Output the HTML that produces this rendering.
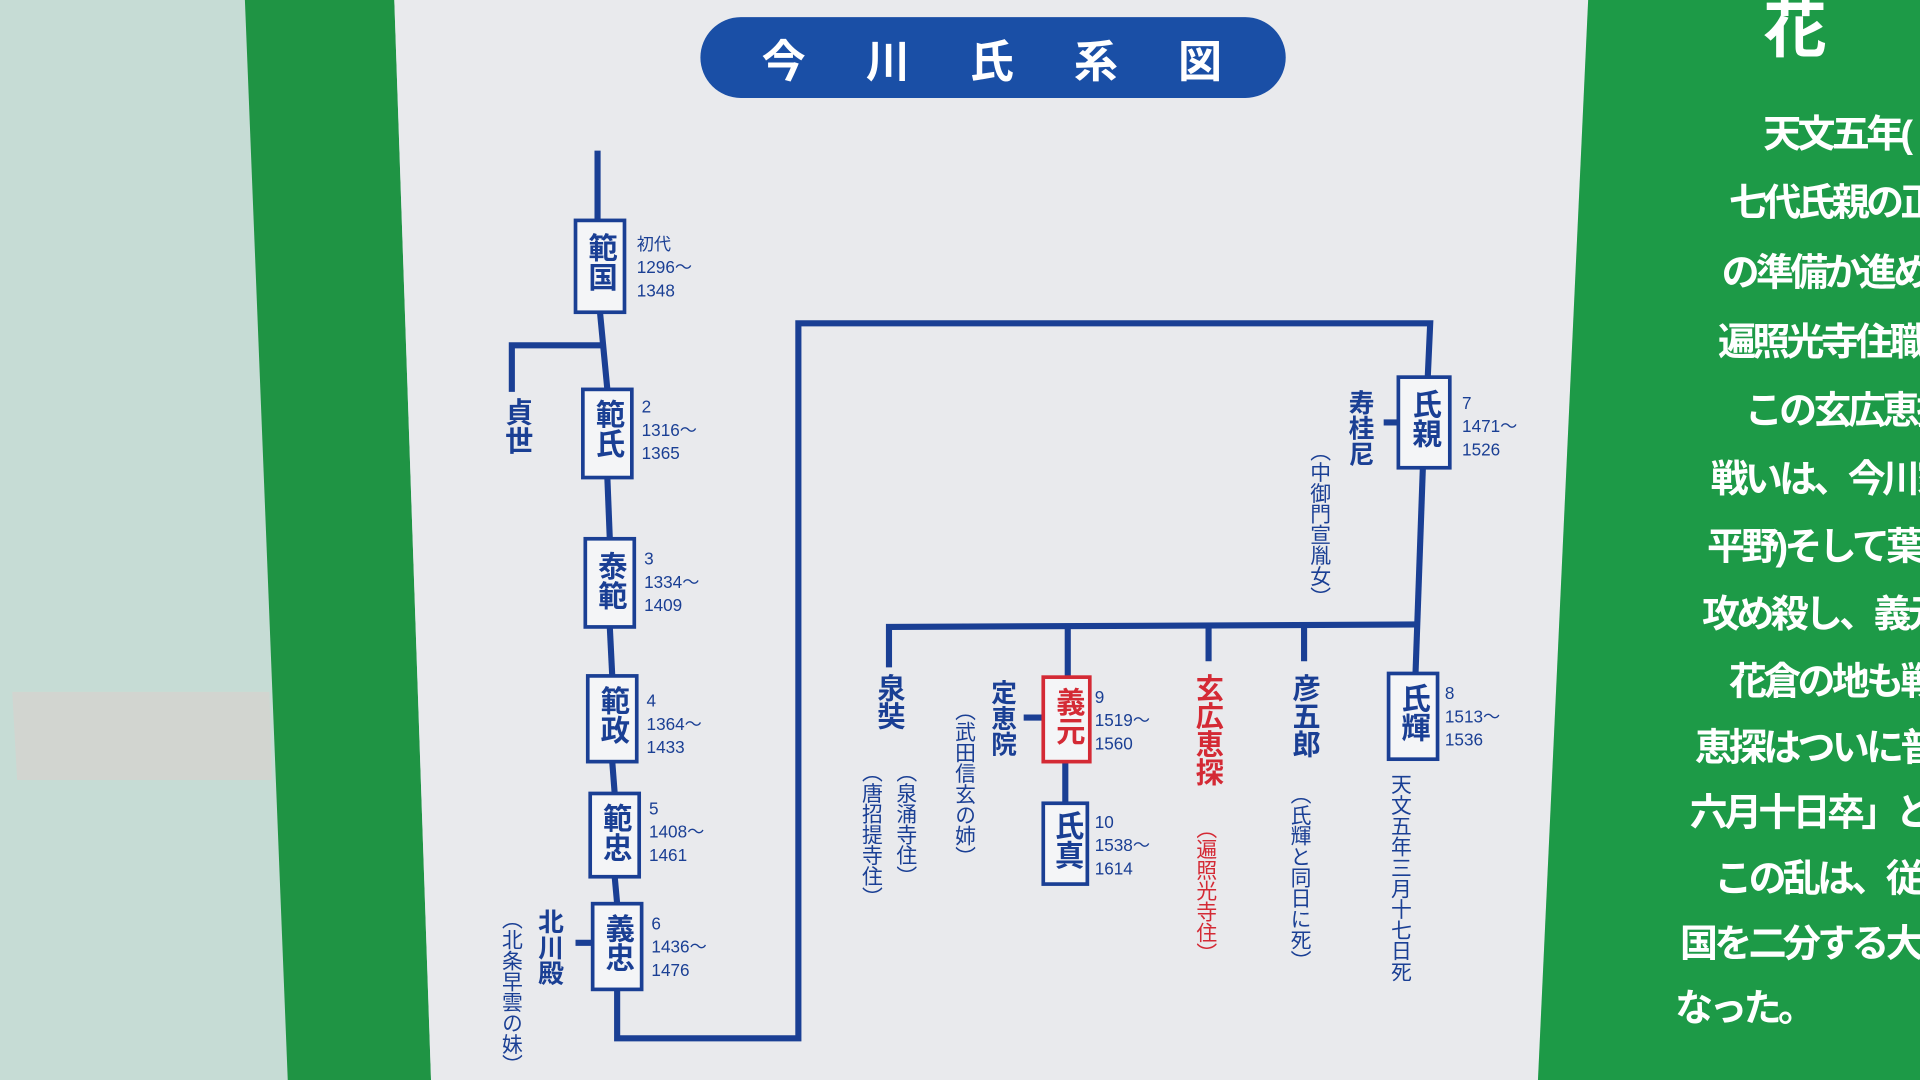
<!DOCTYPE html>
<html><head><meta charset="utf-8"><style>
html,body{margin:0;padding:0;width:1920px;height:1080px;overflow:hidden;background:#c9ded8}
#w{position:absolute;left:0;top:0;width:1568px;height:882px;transform:scale(1.22449);transform-origin:0 0;font-family:"Liberation Sans","Noto Sans CJK JP",sans-serif}
.t{position:absolute;white-space:nowrap}
.v{writing-mode:vertical-rl;position:absolute;font-weight:bold;color:#1a3f94;line-height:1}
.n{position:absolute;font-size:14px;color:#1a3f94;line-height:19px}
.g{position:absolute;color:#fff;font-size:31px;font-weight:bold;white-space:nowrap;letter-spacing:-3px}
.p{font-weight:normal;font-size:17px}
</style></head><body><div id="w">
<svg width="1568" height="882" style="position:absolute;left:0;top:0">
<rect width="1568" height="882" fill="#c2d9d2"/>
<polygon points="0,0 205,0 235,882 0,882" fill="#c6dcd5"/>
<polygon points="10,565 220,565 222,637 14,637" fill="#d2d5d0"/>
<polygon points="200,0 322,0 352,882 235,882" fill="#1f9444"/>
<polygon points="322,0 1297,0 1256,882 352,882" fill="#e9eaed"/>
<polygon points="1297,0 1568,0 1568,882 1256,882" fill="#1d9a47"/>
<rect x="572" y="14" width="478" height="66" rx="33" fill="#1a4fa6"/>
<g stroke="#1a3f94" stroke-width="5" fill="none">
<polyline points="488,123 488,180"/>
<polyline points="490,255 496,318"/>
<polyline points="418,320 418,282 492,282"/>
<polyline points="496,390 498,440"/>
<polyline points="498,512 500,552"/>
<polyline points="500,622 502,648"/>
<polyline points="502,716 504,738"/>
<polyline points="504,808 504,848 652,848 652,264 1168,264 1166,308"/>
<polyline points="1130,345 1142,345"/>
<polyline points="1162,382 1156,550"/>
<polyline points="726,545 726,512 1158,510"/>
<polyline points="872,512 872,553"/>
<polyline points="987,511 987,540"/>
<polyline points="1065,511 1065,540"/>
<polyline points="870,622 870,656"/>
<polyline points="836,586 852,586"/>
<polyline points="470,770 484,770"/>
</g>
<g stroke-width="3" fill="#f4f5f7">
<rect x="470" y="180" width="40" height="75" stroke="#1a3f94"/>
<rect x="476" y="318" width="40" height="72" stroke="#1a3f94"/>
<rect x="478" y="440" width="40" height="72" stroke="#1a3f94"/>
<rect x="480" y="552" width="40" height="70" stroke="#1a3f94"/>
<rect x="482" y="648" width="40" height="68" stroke="#1a3f94"/>
<rect x="484" y="738" width="40" height="70" stroke="#1a3f94"/>
<rect x="1142" y="308" width="42" height="74" stroke="#1a3f94"/>
<rect x="1134" y="550" width="40" height="70" stroke="#1a3f94"/>
<rect x="852" y="553" width="38" height="69" stroke="#d42a35"/>
<rect x="852" y="656" width="36" height="66" stroke="#1a3f94"/>
</g>
</svg>
<div class="t" style="left:622px;top:22px;font-size:36px;font-weight:bold;color:#fff;letter-spacing:49px">今川氏系図</div>
<div class="v" style="left:477px;top:190px;font-size:24px">範国</div>
<div class="v" style="left:483px;top:326px;font-size:24px">範氏</div>
<div class="v" style="left:485px;top:450px;font-size:24px">泰範</div>
<div class="v" style="left:487px;top:560px;font-size:24px">範政</div>
<div class="v" style="left:489px;top:656px;font-size:24px">範忠</div>
<div class="v" style="left:491px;top:746px;font-size:24px">義忠</div>
<div class="v" style="left:1150px;top:318px;font-size:24px">氏親</div>
<div class="v" style="left:1141px;top:558px;font-size:24px">氏輝</div>
<div class="v" style="left:859px;top:561px;font-size:24px;color:#d42a35">義元</div>
<div class="v" style="left:858px;top:662px;font-size:24px">氏真</div>
<div class="v" style="left:410px;top:325px;font-size:23px">貞世</div>
<div class="v" style="left:438px;top:742px;font-size:21px">北川殿</div>
<div class="v p" style="left:408px;top:742px">（北条早雲の妹）</div>
<div class="v" style="left:1100px;top:318px;font-size:21px">寿桂尼</div>
<div class="v p" style="left:1068px;top:360px">（中御門宣胤女）</div>
<div class="v" style="left:714px;top:550px;font-size:23px">泉奘</div>
<div class="v p" style="left:730px;top:622px">（泉涌寺住）</div>
<div class="v p" style="left:702px;top:622px">（唐招提寺住）</div>
<div class="v" style="left:808px;top:555px;font-size:21px">定恵院</div>
<div class="v p" style="left:778px;top:572px">（武田信玄の姉）</div>
<div class="v" style="left:974px;top:550px;font-size:23px;color:#d42a35">玄広恵探</div>
<div class="v p" style="left:975px;top:668px;color:#d42a35">（遍照光寺住）</div>
<div class="v" style="left:1053px;top:550px;font-size:23px">彦五郎</div>
<div class="v p" style="left:1052px;top:640px">（氏輝と同日に死）</div>
<div class="v p" style="left:1134px;top:632px">天文五年三月十七日死</div>
<div class="n" style="left:520px;top:190px">初代<br>1296～<br>1348</div>
<div class="n" style="left:524px;top:323px">2<br>1316～<br>1365</div>
<div class="n" style="left:526px;top:447px">3<br>1334～<br>1409</div>
<div class="n" style="left:528px;top:563px">4<br>1364～<br>1433</div>
<div class="n" style="left:530px;top:651px">5<br>1408～<br>1461</div>
<div class="n" style="left:532px;top:745px">6<br>1436～<br>1476</div>
<div class="n" style="left:1194px;top:320px">7<br>1471～<br>1526</div>
<div class="n" style="left:1180px;top:557px">8<br>1513～<br>1536</div>
<div class="n" style="left:894px;top:560px">9<br>1519～<br>1560</div>
<div class="n" style="left:894px;top:662px">10<br>1538～<br>1614</div>
<div class="g" style="left:1440px;top:-18px;font-size:52px">花</div>
<div class="g" style="left:1440px;top:84px">天文五年(</div>
<div class="g" style="left:1412px;top:140px">七代氏親の正</div>
<div class="g" style="left:1406px;top:197px">の準備か進め</div>
<div class="g" style="left:1403px;top:254px">遍照光寺住職</div>
<div class="g" style="left:1425px;top:310px">この玄広恵探</div>
<div class="g" style="left:1397px;top:366px">戦いは、今川家</div>
<div class="g" style="left:1394px;top:421px">平野)そして葉梨</div>
<div class="g" style="left:1390px;top:476px">攻め殺し、義元が</div>
<div class="g" style="left:1412px;top:531px">花倉の地も戦</div>
<div class="g" style="left:1384px;top:585px">恵探はついに普門</div>
<div class="g" style="left:1380px;top:638px">六月十日卒」とあ</div>
<div class="g" style="left:1400px;top:692px">この乱は、従来、</div>
<div class="g" style="left:1372px;top:745px">国を二分する大き</div>
<div class="g" style="left:1368px;top:798px">なった。</div>
</div></body></html>
